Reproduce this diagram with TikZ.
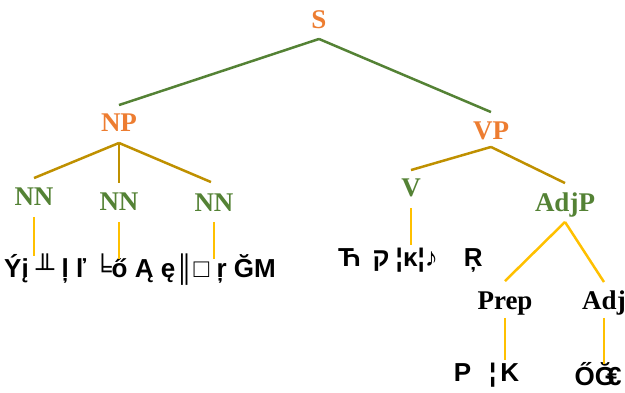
\documentclass[tikz,border=0pt]{standalone}
\usepackage{fontspec}
\usetikzlibrary{calc}
\setmainfont{Liberation Serif}
\newfontfamily\wordfont{Liberation Sans}
\definecolor{sorange}{HTML}{ED7D31}
\definecolor{sgreen}{HTML}{548235}
\definecolor{sgold}{HTML}{BF9000}
\definecolor{syellow}{HTML}{FFC000}
\begin{document}
\begin{tikzpicture}[x=1pt,y=-1pt,
  lbl/.style={inner sep=0pt, outer sep=0pt, text height=17.9pt, text depth=0pt,
    font=\fontsize{27}{30}\selectfont\bfseries},
  phr/.style={lbl, text=sorange},
  cat/.style={lbl, text=sgreen},
  tagnode/.style={lbl, text=black},
  wrd/.style={inner sep=0pt, outer sep=0pt, text height=18.6pt, text depth=0pt,
    font=\wordfont\fontsize{26}{30}\selectfont\bfseries},
  topln/.style={draw=sgreen, line width=2.5pt},
  midln/.style={draw=sgold, line width=2.5pt},
  lowln/.style={draw=syellow, line width=2.5pt}]
\useasboundingbox (0,0) rectangle (625,392);
% labels
\node[phr] (S) at (319,20) {S};
\node[phr] (NP) at (119,123) {NP};
\node[phr] (VP) at (491,131) {VP};
\node[cat] (NN1) at (34,196.5) {NN};
\node[cat] (NN2) at (119,202) {NN};
\node[cat] (NN3) at (214,203) {NN};
\node[cat] (V) at (411,188) {V};
\node[cat] (AdjP) at (565,203) {AdjP};
\node[tagnode] (Prep) at (505,301) {Prep};
\node[tagnode] (Adj) at (604,301) {Adj};
% words
\node[wrd] (w1) at (140,268) {Ýį ╨ ļ ľ ╘ő Ą ę║□ ŗ ĞM};
\node[wrd, anchor=west] (w2) at (338,257.5) {Ћ\hspace{12pt}ק\hspace{6pt}¦κ¦♪\hspace{26pt}Ŗ};
\node[wrd] (w3) at (486.5,372) {P\hspace{18pt}¦\hspace{4pt}K};
\node[wrd] (w4) at (598,376) {ŐĞ\kern-8pt€};
% top connectors
\draw[topln] ([yshift=-10pt]S.south) -- ([yshift=9pt]NP.north);
\draw[topln] ([yshift=-10pt]S.south) -- ([yshift=10pt]VP.north);
% middle connectors
\draw[midln] ([yshift=-11pt]NP.south) -- ([yshift=9.5pt]NN1.north);
\draw[midln] ([yshift=-11pt]NP.south) -- ([yshift=10pt]NN2.north);
\draw[midln] ([yshift=-11pt]NP.south) -- ([xshift=-3pt,yshift=12pt]NN3.north);
\draw[midln] ([yshift=-7pt]VP.south) -- ([yshift=9pt]V.north);
\draw[midln] ([yshift=-7pt]VP.south) -- ([yshift=11pt]AdjP.north);
% lower connectors
\draw[lowln] ([yshift=-10pt]AdjP.south) -- ([yshift=11pt]Prep.north);
\draw[lowln] ([yshift=-10pt]AdjP.south) -- ([yshift=10pt]Adj.north);
\draw[lowln] ([yshift=-11.5pt]NN1.south) -- ($(NN1.south |- w1.north)+(0,-3)$);
\draw[lowln] ([yshift=-11pt]NN2.south) -- (NN2.south |- w1.north);
\draw[lowln] ([yshift=-10pt]NN3.south) -- (NN3.south |- w1.north);
\draw[lowln] ([yshift=-11pt]V.south) -- ($(V.south |- w2.north)+(0,-3)$);
\draw[lowln] ([yshift=-8pt]Prep.south) -- ($(Prep.south |- w3.north)+(0,-3)$);
\draw[lowln] ([yshift=-8pt]Adj.south) -- ($(Adj.south |- w4.north)+(0,-3)$);
\end{tikzpicture}
\end{document}
